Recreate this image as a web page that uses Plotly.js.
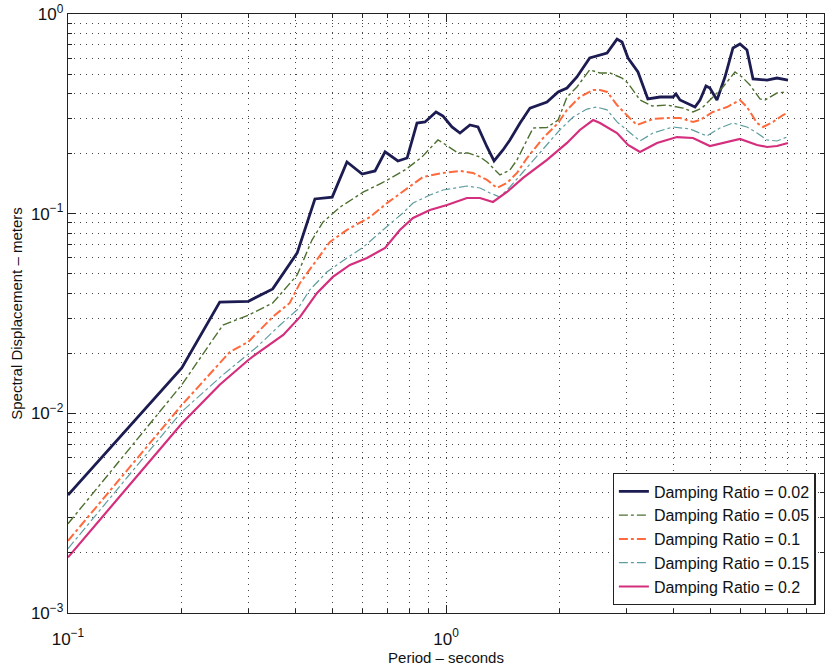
<!DOCTYPE html>
<html>
<head>
<meta charset="utf-8">
<script src="https://cdn.plot.ly/plotly-3.0.1.min.js"></script>
<style>html,body{margin:0;padding:0;background:#fff;}#chart{width:836px;height:668px;}</style>
</head>
<body>
<div id="chart"></div>
<script>
// Damping ratio 0.02
const period002 = [0.1, 0.2, 0.252, 0.3, 0.348, 0.404, 0.45, 0.5, 0.547, 0.6, 0.649, 0.69, 0.746, 0.789, 0.838, 0.88, 0.941, 0.982, 1.037, 1.089, 1.157, 1.215, 1.284, 1.34, 1.415, 1.476, 1.57, 1.668, 1.85, 1.98, 2.09, 2.22, 2.40, 2.555, 2.667, 2.834, 2.922, 3.031, 3.22, 3.42, 3.683, 3.986, 4.06, 4.159, 4.558, 4.699, 4.873, 4.99, 5.21, 5.47, 5.744, 5.995, 6.255, 6.49, 7.07, 7.51, 8.03];
const disp002 = [0.0039, 0.0169, 0.0361, 0.0364, 0.042, 0.0636, 0.1185, 0.121, 0.1815, 0.158, 0.1637, 0.204, 0.1836, 0.190, 0.2845, 0.288, 0.323, 0.308, 0.2717, 0.2535, 0.278, 0.2717, 0.2158, 0.1836, 0.2084, 0.2339, 0.2845, 0.338, 0.362, 0.407, 0.426, 0.4836, 0.602, 0.623, 0.638, 0.749, 0.724, 0.602, 0.5125, 0.3753, 0.384, 0.384, 0.3975, 0.371, 0.342, 0.371, 0.436, 0.426, 0.371, 0.4836, 0.676, 0.708, 0.66, 0.4726, 0.467, 0.478, 0.467];

// Damping ratio 0.05
const period005 = [0.1, 0.2, 0.257, 0.3, 0.348, 0.404, 0.442, 0.473, 0.525, 0.605, 0.677, 0.779, 0.864, 0.952, 0.982, 1.076, 1.143, 1.23, 1.284, 1.389, 1.476, 1.541, 1.638, 1.70, 1.85, 1.98, 2.09, 2.22, 2.40, 2.555, 2.716, 2.922, 3.031, 3.26, 3.51, 3.84, 4.236, 4.502, 4.756, 5.08, 5.405, 5.815, 6.069, 6.37, 6.77, 6.98, 7.51, 7.98];
const disp005 = [0.0028, 0.0139, 0.0277, 0.031, 0.0357, 0.0493, 0.0738, 0.0909, 0.108, 0.1285, 0.1425, 0.1655, 0.1923, 0.2339, 0.226, 0.2014, 0.2014, 0.1923, 0.1815, 0.1562, 0.1655, 0.1857, 0.2339, 0.2686, 0.27, 0.2945, 0.384, 0.431, 0.525, 0.5065, 0.5065, 0.478, 0.45, 0.371, 0.346, 0.35, 0.338, 0.323, 0.338, 0.384, 0.431, 0.5125, 0.4836, 0.441, 0.3753, 0.371, 0.402, 0.407];

// Damping ratio 0.1
const period010 = [0.1, 0.2, 0.268, 0.3, 0.348, 0.386, 0.411, 0.445, 0.493, 0.547, 0.63, 0.698, 0.789, 0.869, 0.982, 1.089, 1.179, 1.284, 1.364, 1.45, 1.541, 1.638, 1.806, 1.98, 2.09, 2.26, 2.45, 2.555, 2.67, 2.834, 3.06, 3.20, 3.53, 3.84, 4.159, 4.502, 4.699, 5.08, 5.54, 5.995, 6.255, 6.65, 6.90, 7.33, 7.79, 7.98];
const disp010 = [0.0023, 0.011, 0.0203, 0.0228, 0.0304, 0.0357, 0.045, 0.0554, 0.0722, 0.0829, 0.0963, 0.113, 0.133, 0.1527, 0.1599, 0.1636, 0.1599, 0.1475, 0.1345, 0.1425, 0.1599, 0.19, 0.239, 0.2845, 0.331, 0.384, 0.416, 0.416, 0.407, 0.35, 0.3014, 0.278, 0.298, 0.3014, 0.3014, 0.288, 0.2945, 0.323, 0.342, 0.371, 0.342, 0.2845, 0.2717, 0.288, 0.312, 0.319];

// Damping ratio 0.15
const period015 = [0.1, 0.2, 0.257, 0.316, 0.364, 0.404, 0.436, 0.484, 0.547, 0.605, 0.681, 0.769, 0.818, 0.907, 0.982, 1.136, 1.23, 1.307, 1.389, 1.476, 1.599, 1.85, 2.0, 2.17, 2.36, 2.5, 2.667, 2.834, 3.26, 3.53, 3.986, 4.421, 4.699, 4.90, 5.307, 5.744, 6.255, 6.65, 7.07, 7.51, 7.98];
const disp015 = [0.0021, 0.0102, 0.0156, 0.0215, 0.0277, 0.033, 0.0415, 0.051, 0.06, 0.0681, 0.0829, 0.1008, 0.1131, 0.124, 0.1314, 0.1376, 0.1345, 0.127, 0.1212, 0.136, 0.1617, 0.221, 0.2625, 0.305, 0.334, 0.342, 0.331, 0.288, 0.2312, 0.2535, 0.2717, 0.2655, 0.2535, 0.245, 0.2686, 0.2845, 0.2717, 0.2535, 0.2339, 0.2312, 0.242];

// Damping ratio 0.2
const period020 = [0.1, 0.2, 0.252, 0.3, 0.318, 0.371, 0.411, 0.456, 0.502, 0.557, 0.618, 0.69, 0.755, 0.818, 0.907, 1.006, 1.136, 1.23, 1.331, 1.45, 1.599, 1.85, 2.09, 2.26, 2.45, 2.555, 2.834, 3.031, 3.26, 3.616, 4.083, 4.502, 4.99, 5.405, 5.995, 6.65, 7.07, 7.51, 8.03];
const disp020 = [0.0019, 0.0089, 0.0139, 0.0185, 0.0201, 0.0247, 0.0304, 0.0401, 0.0482, 0.0554, 0.06, 0.0673, 0.0829, 0.0952, 0.1043, 0.1105, 0.1198, 0.1198, 0.1144, 0.1284, 0.151, 0.186, 0.226, 0.2625, 0.2945, 0.2845, 0.2535, 0.2208, 0.2037, 0.226, 0.242, 0.2393, 0.2183, 0.226, 0.2366, 0.2208, 0.2158, 0.2183, 0.226];

const seriesNames = ['Damping Ratio = 0.02', 'Damping Ratio = 0.05', 'Damping Ratio = 0.1', 'Damping Ratio = 0.15', 'Damping Ratio = 0.2'];
const xTickVals = [0.1, 1, 10];
const xTickText = ['10<sup>−1</sup>', '10<sup>0</sup>', '10<sup>1</sup>'];
const xMinorVals = [0.2, 0.3, 0.4, 0.5, 0.6, 0.7, 0.8, 0.9, 2, 3, 4, 5, 6, 7, 8, 9];
const yTickVals = [0.001, 0.01, 0.1, 1];
const yTickText = ['10<sup>−3</sup>', '10<sup>−2</sup>', '10<sup>−1</sup>', '10<sup>0</sup>'];
const yMinorVals = [0.002, 0.003, 0.004, 0.005, 0.006, 0.007, 0.008, 0.009,
                    0.02, 0.03, 0.04, 0.05, 0.06, 0.07, 0.08, 0.09,
                    0.2, 0.3, 0.4, 0.5, 0.6, 0.7, 0.8, 0.9];

const styles = [
  {color: '#1c1c52', width: 2.8, dash: 'solid'},
  {color: '#4d7030', width: 1.4, dash: 'dashdot'},
  {color: '#ff6a3c', width: 2.0, dash: 'dashdot'},
  {color: '#5f9ea0', width: 1.2, dash: 'dashdot'},
  {color: '#d42e7c', width: 2.2, dash: 'solid'}
];
const xs = [period002, period005, period010, period015, period020];
const ys = [disp002, disp005, disp010, disp015, disp020];

const traces = xs.map((x, i) => ({
  x: x, y: ys[i], type: 'scatter', mode: 'lines', name: seriesNames[i],
  line: styles[i]
}));

const FONT = 'Liberation Sans, Arial, sans-serif';
const gridDash = '1px,5px';
function axis(minorVals) {
  return {
    type: 'log',
    showline: true, linecolor: '#222', linewidth: 1.2, mirror: 'allticks',
    ticks: 'inside', ticklen: 8, tickcolor: '#222',
    showgrid: true, gridcolor: '#333', griddash: gridDash, gridwidth: 1,
    zeroline: false,
    tickfont: {family: FONT, size: 17, color: '#111'},
    minor: {tickmode: 'array', tickvals: minorVals, showgrid: true, gridcolor: '#444', griddash: gridDash, gridwidth: 1, ticks: 'inside', ticklen: 4, tickcolor: '#222'}
  };
}

const layout = {
  width: 836, height: 668,
  margin: {l: 68, r: 12, t: 14, b: 55},
  paper_bgcolor: '#fff', plot_bgcolor: '#fff',
  showlegend: true,
  xaxis: Object.assign(axis(xMinorVals), {
    range: [-1, 1], tickvals: xTickVals, ticktext: xTickText, ticklabelstandoff: 10,
    title: {text: 'Period – seconds', font: {family: FONT, size: 15, color: '#111'}, standoff: 0}
  }),
  yaxis: Object.assign(axis(yMinorVals), {
    range: [-3, 0], tickvals: yTickVals, ticktext: yTickText,
    title: {text: 'Spectral Displacement – meters', font: {family: FONT, size: 15, color: '#111'}, standoff: 4}
  }),
  legend: {
    x: 0.989, xanchor: 'right', y: 0.013, yanchor: 'bottom',
    bgcolor: '#fff', bordercolor: '#222', borderwidth: 1.2,
    font: {family: FONT, size: 16, color: '#111'},
    tracegroupgap: 0, itemwidth: 30
  }
};

Plotly.newPlot('chart', traces, layout, {displayModeBar: false, staticPlot: true});
</script>
</body>
</html>
